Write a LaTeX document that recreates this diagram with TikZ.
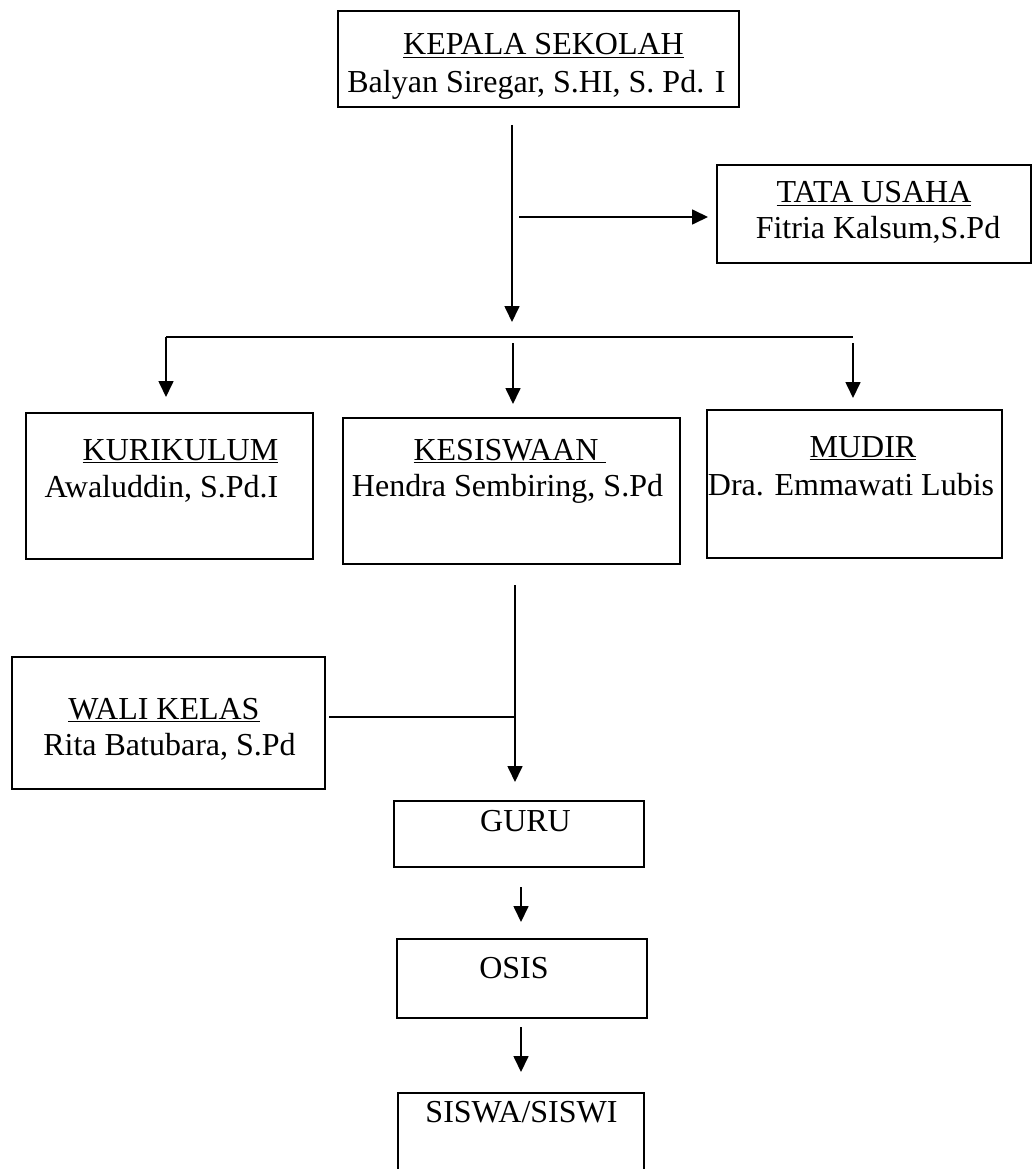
\documentclass[tikz,border=0pt]{standalone}
\usepackage{fontspec}
\setmainfont{Liberation Serif}
\usetikzlibrary{arrows.meta}
\begin{document}
\begin{tikzpicture}[x=1pt,y=-1pt,
  box/.style={draw,line width=1.7pt,inner sep=0pt,anchor=north west},
  lbl/.style={anchor=base,inner sep=0pt,font=\fontsize{32}{38}\selectfont},
  conn/.style={line width=1.7pt},
  arr/.style={conn,-{Triangle[width=15pt,length=16pt]}}]
\useasboundingbox (0,0) rectangle (1033,1169);

% boxes
\node[box,minimum width=401pt,minimum height=96pt] (kepala) at (337,10) {};
\node[box,minimum width=314pt,minimum height=98pt] (tata) at (716,164) {};
\node[box,minimum width=287pt,minimum height=146pt] (kuri) at (25,412) {};
\node[box,minimum width=337pt,minimum height=146pt] (kesis) at (342,417) {};
\node[box,minimum width=295pt,minimum height=148pt] (mudir) at (706,409) {};
\node[box,minimum width=313pt,minimum height=132pt] (wali) at (11,656) {};
\node[box,minimum width=250pt,minimum height=66pt] (guru) at (393,800) {};
\node[box,minimum width=250pt,minimum height=79pt] (osis) at (396,938) {};
\node[box,minimum width=246pt,minimum height=100pt] (siswa) at (397,1092) {};

% labels
\node[lbl] (kepalaA) at (543.5,55) {\underline{KEPALA SEKOLAH}};
\node[lbl] (kepalaB) at (536.5,93) {Balyan Siregar, S.HI, S. Pd. I};
\node[lbl] (tataA) at (874,203) {\underline{TATA USAHA}};
\node[lbl] (tataB) at (878,238) {Fitria Kalsum,S.Pd};
\node[lbl] (kuriA) at (180.5,460) {\underline{KURIKULUM}};
\node[lbl] (kuriB) at (161.5,497) {Awaluddin, S.Pd.I};
\node[lbl] (kesisA) at (510,460) {\underline{KESISWAAN\ }};
\node[lbl] (kesisB) at (507.5,496) {Hendra Sembiring, S.Pd};
\node[lbl] (mudirA) at (863,457) {\underline{MUDIR}};
\node[lbl] (mudirB) at (851,495) {Dra. Emmawati Lubis};
\node[lbl] (waliA) at (164,719) {\underline{WALI KELAS}};
\node[lbl] (waliB) at (169.5,755) {Rita Batubara, S.Pd};
\node[lbl] (guruA) at (525.5,831) {GURU};
\node[lbl] (osisA) at (514,978) {OSIS};
\node[lbl] (siswaA) at (521.5,1122) {SISWA/SISWI};

% connector points
\coordinate (m1) at (512,125);
\coordinate (m2) at (512,322);
\coordinate (t1) at (519,217);
\coordinate (t2) at (708,217);
\coordinate (b1) at (166,337);
\coordinate (b2) at (853,337);
\coordinate (k2) at (166,397);
\coordinate (s1) at (513,343);
\coordinate (s2) at (513,404);
\coordinate (d1) at (853,343);
\coordinate (d2) at (853,398);
\coordinate (v1) at (515,585);
\coordinate (v2) at (515,782);
\coordinate (w1) at (329,717);
\coordinate (w2) at (515,717);
\coordinate (g1) at (521,887);
\coordinate (g2) at (521,922);
\coordinate (o1) at (521,1027);
\coordinate (o2) at (521,1072);

% connectors
\draw[arr] (m1) -- (m2);
\draw[arr] (t1) -- (t2);
\draw[conn] (b1) -- (b2);
\draw[arr] (b1) -- (k2);
\draw[arr] (s1) -- (s2);
\draw[arr] (d1) -- (d2);
\draw[arr] (v1) -- (v2);
\draw[conn] (w1) -- (w2);
\draw[arr] (g1) -- (g2);
\draw[arr] (o1) -- (o2);
\end{tikzpicture}
\end{document}
